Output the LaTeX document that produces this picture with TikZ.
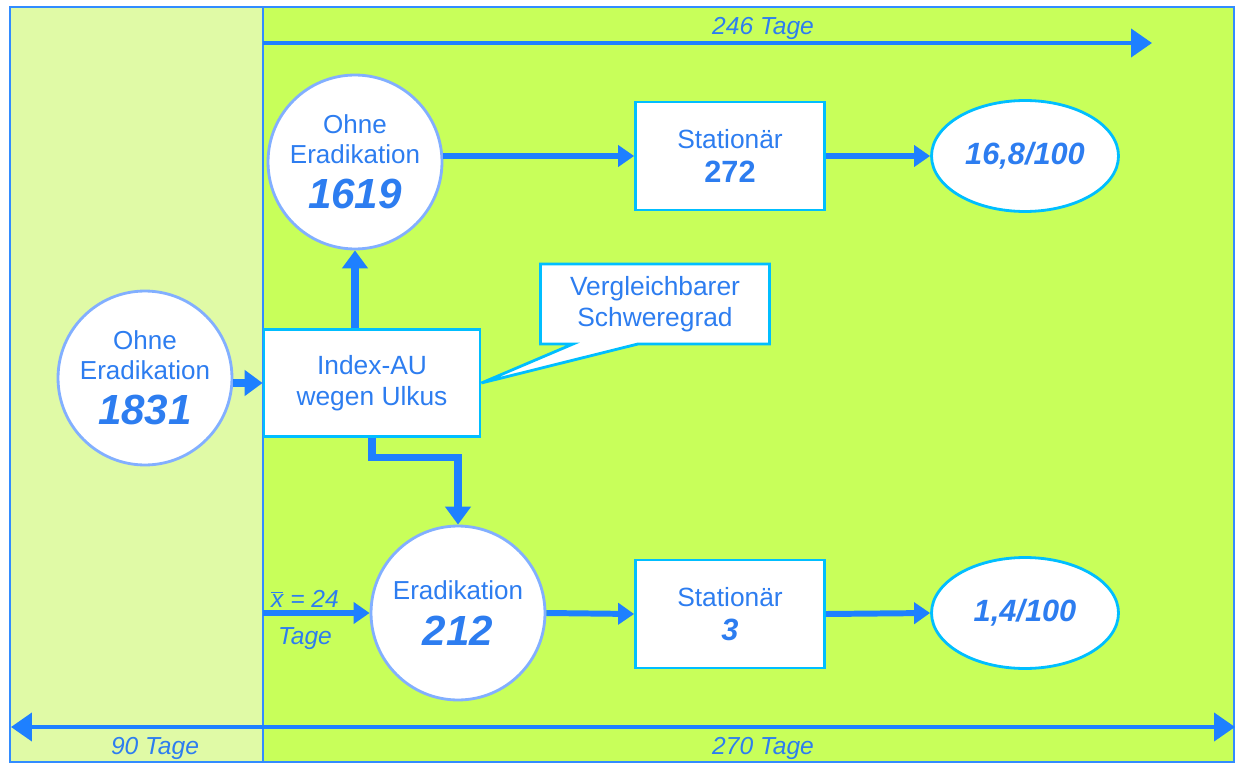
\documentclass[tikz,border=0pt]{standalone}
\usepackage{fontspec}
\setmainfont{Liberation Sans}
\usetikzlibrary{arrows.meta,shapes.geometric,shapes.callouts}
\definecolor{txtblue}{RGB}{45,125,240}
\definecolor{arrowblue}{RGB}{30,128,255}
\definecolor{boxcyan}{RGB}{0,190,255}
\definecolor{ringblue}{RGB}{130,175,255}
\definecolor{paleleaf}{RGB}{224,250,166}
\definecolor{leaf}{RGB}{200,255,90}
\definecolor{framblue}{RGB}{50,140,255}
\newcommand{\bigfig}[1]{{\fontsize{24}{27}\selectfont\bfseries\itshape #1}}
\newcommand{\midfig}[1]{{\fontsize{17.5}{20}\selectfont\bfseries #1}}
\tikzset{
  stage/.style={circle, draw=ringblue, line width=1.6pt, fill=white,
                minimum size=3.48cm, inner sep=0pt, align=center, text=txtblue,
                font=\fontsize{14.8}{17}\selectfont},
  statbox/.style={rectangle, draw=boxcyan, line width=1.6pt, fill=white,
                  minimum width=3.78cm, minimum height=2.16cm, align=center,
                  text=txtblue, font=\fontsize{15}{18}\selectfont},
  rate/.style={ellipse, draw=boxcyan, line width=1.6pt, fill=white,
               minimum width=3.74cm, minimum height=2.22cm, inner sep=0pt,
               text=txtblue, font=\fontsize{17.5}{20}\selectfont\bfseries\itshape},
  flow/.style={draw=arrowblue, line width=3.4pt,
               -{Triangle[length=0.32cm, width=0.42cm]}},
  heavyflow/.style={draw=arrowblue, line width=4pt,
                    -{Triangle[length=0.36cm, width=0.5cm]}},
  span/.style={draw=arrowblue, line width=2.4pt},
  daylab/.style={text=txtblue, font=\fontsize{14}{16}\selectfont\itshape,
                 inner sep=1pt},
}
\begin{document}
\begin{tikzpicture}[x=0.02cm, y=-0.02cm]
\useasboundingbox (0,0) rectangle (1236,770);

% panels
\fill[paleleaf] (10,7) rectangle (263,762);
\fill[leaf] (263,7) rectangle (1234,762);
\draw[framblue, line width=1.2pt] (10,7) rectangle (1234,762);
\draw[framblue, line width=1pt] (263,7) -- (263,762);

% time spans
\coordinate (topl) at (263,43);
\coordinate (topr) at (1152,43);
\draw[span, -{Triangle[length=0.42cm, width=0.56cm]}] (topl) -- (topr);
\node[daylab] (t246) at (763,28) {246 Tage};

\coordinate (botl) at (11,727);
\coordinate (botr) at (1235,727);
\draw[span, {Triangle[length=0.42cm, width=0.56cm]}-{Triangle[length=0.42cm, width=0.56cm]}]
  (botl) -- (botr);
\node[daylab] (t90) at (155,748) {90 Tage};
\node[daylab] (t270) at (763,748) {270 Tage};

% nodes
\node[stage] (all) at (145,378) {Ohne\\Eradikation\\[9pt]\bigfig{1831}};
\node[statbox, minimum width=4.32cm, minimum height=2.14cm] (index) at (372,383)
  {Index-AU\\wegen Ulkus};
\node[stage] (noera) at (355,162) {Ohne\\Eradikation\\[9pt]\bigfig{1619}};
\node[stage] (era) at (458,613) {Eradikation\\[9pt]\bigfig{212}};
\node[statbox] (stat1) at (730,156) {Stationär\\[1pt]\midfig{272}};
\node[statbox] (stat2) at (730,614) {Stationär\\[1pt]\midfig{\itshape 3}};
\node[rate] (rate1) at (1025,156) {16,8/100};
\node[rate] (rate2) at (1025,613) {1,4/100};

\node[rectangle callout, draw=boxcyan, line width=1.6pt, fill=white,
      minimum width=4.58cm, minimum height=1.6cm, align=center, text=txtblue,
      font=\fontsize{15}{18}\selectfont, callout pointer width=1.3cm,
      callout absolute pointer={(index.east)}] (note) at (655,304)
  {Vergleichbarer\\Schweregrad};

% connectors
\draw[heavyflow] (index.west -| all.east) -- (index.west);
\draw[heavyflow] (index.north -| noera.south) -- (noera.south);
\draw[heavyflow] (index.south) -- ++(0,20) -| (era.north);
\draw[flow] (stat1.west -| noera.east) -- (stat1.west);
\draw[flow] (stat1.east) -- (rate1.west);
\coordinate (xin) at (263,613);
\draw[flow] (xin) -- (era.west);
\node[daylab, anchor=south] (xbar) at (305,610) {$\overline{\mbox{\itshape x}}$ = 24};
\node[daylab, anchor=north] (xtage) at (305,625) {Tage};
\draw[flow] (era.east) -- (stat2.west);
\draw[flow] (stat2.east) -- (rate2.west);

\end{tikzpicture}
\end{document}
